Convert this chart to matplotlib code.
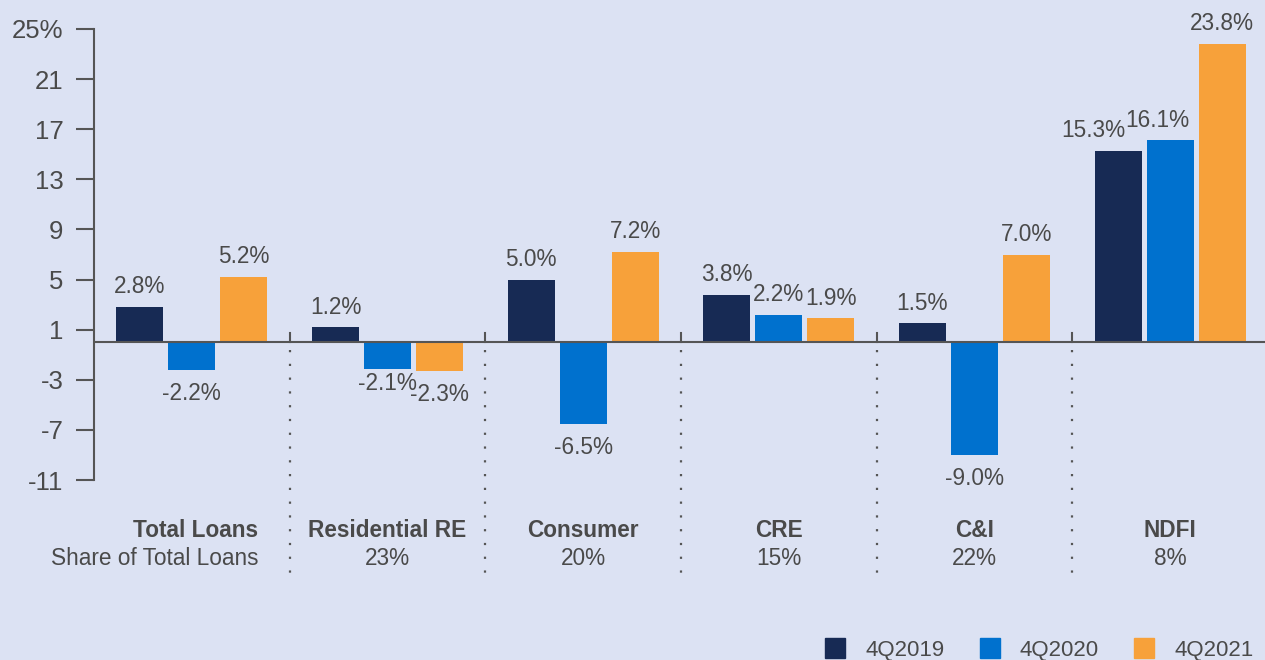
import matplotlib.pyplot as plt
from matplotlib.patches import Patch

categories = ['Total Loans', 'Residential RE', 'Consumer', 'CRE', 'C&I', 'NDFI']
shares = ['Share of Total Loans', '23%', '20%', '15%', '22%', '8%']
series_names = ['4Q2019', '4Q2020', '4Q2021']
q4_2019 = [2.8, 1.2, 5.0, 3.8, 1.5, 15.3]
q4_2020 = [-2.2, -2.1, -6.5, 2.2, -9.0, 16.1]
q4_2021 = [5.2, -2.3, 7.2, 1.9, 7.0, 23.8]
yticks = [-11, -7, -3, 1, 5, 9, 13, 17, 21, 25]

colors = ['#172a54', '#0071ce', '#f7a13a']
bg = '#dce2f3'
text_col = '#4a4a4a'
axis_col = '#555555'

# small nudges (points) for labels that would collide: (group, series) -> (dx, dy)
nudges = {(5, 0): (-18, 0), (5, 1): (-9, 0), (1, 1): (0, 6)}

plt.rcParams['font.family'] = ['Liberation Sans', 'DejaVu Sans']

W, H = 1265, 660
fig = plt.figure(figsize=(W / 100, H / 100), dpi=100, facecolor=bg)
left, right, top, bottom = 94, 1268, 29, 480
ax = fig.add_axes([left / W, (H - bottom) / H, (right - left) / W, (bottom - top) / H])
ax.set_facecolor(bg)
ax.set_xlim(-0.5, len(categories) - 0.5)
ax.set_ylim(-11, 25)

width = 0.24
offsets = [-0.266, 0, 0.266]
all_series = [q4_2019, q4_2020, q4_2021]
for s, (vals, col) in enumerate(zip(all_series, colors)):
    xs = [i + offsets[s] for i in range(len(vals))]
    ax.bar(xs, vals, width=width, color=col, zorder=2)
    for g, (x, v) in enumerate(zip(xs, vals)):
        dx, dy = nudges.get((g, s), (0, 0))
        oy = 14.5 if v >= 0 else -17
        ax.annotate(f'{v:.1f}%', (x, v), xytext=(dx, oy + dy), textcoords='offset points',
                    ha='center', va='center', fontsize=16.3, color=text_col,
                    annotation_clip=False)

ax.axhline(0, color=axis_col, lw=1.5, zorder=3)

# dotted group separators with a small solid tick above the zero line
for i in range(1, len(categories)):
    x = i - 0.5
    ax.plot([x, x], [0, 0.75], color=axis_col, lw=1.5, clip_on=False, zorder=3)
    ax.plot([x, x], [-0.6, -19.3], color=axis_col, lw=1.6, dashes=(1, 5.2),
            clip_on=False, zorder=1)

for s in ['top', 'right', 'bottom']:
    ax.spines[s].set_visible(False)
ax.spines['left'].set_color(axis_col)
ax.spines['left'].set_linewidth(1.5)
ax.spines['left'].set_bounds(-11, 25)
ax.set_xticks([])
ax.set_yticks(yticks)
ax.set_yticklabels([f'{t}%' if t == 25 else str(t) for t in yticks])
ax.tick_params(axis='y', length=13, width=1.5, color=axis_col, pad=9,
               labelsize=18.5, labelcolor=text_col)

# category labels under the chart
for i, (cat, sh) in enumerate(zip(categories, shares)):
    if i == 0:
        x, ha = 0.34, 'right'
    else:
        x, ha = i, 'center'
    ax.text(x, -15.0, cat, ha=ha, va='center', fontsize=16.3, fontweight='bold',
            color=text_col, clip_on=False)
    ax.text(x, -17.3, sh, ha=ha, va='center', fontsize=16.3, color=text_col, clip_on=False)

handles = [Patch(color=c) for c in colors]
fig.legend(handles, series_names, loc='upper left', bbox_to_anchor=(825 / W, 1 - 638 / H),
           ncol=3, frameon=False, fontsize=16, handlelength=0.9, handleheight=1.0,
           handletextpad=0.9, columnspacing=1.6, borderpad=0, borderaxespad=0,
           labelcolor=text_col)

fig.savefig('out.png', dpi=100, facecolor=bg)
